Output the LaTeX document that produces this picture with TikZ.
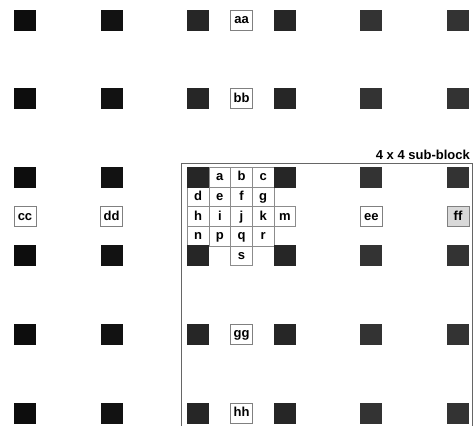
\documentclass[tikz,border=0pt]{standalone}
\usepackage{fontspec}
\setmainfont{Liberation Sans}
\begin{document}
\begin{tikzpicture}[x=1pt,y=-1pt,
  pel/.style={minimum width=22pt, minimum height=21pt, inner sep=0pt},
  halfpel/.style={draw=black!50, fill=white, minimum width=22pt, minimum height=20pt,
    inner sep=0pt, text height=9.5pt, text depth=2.5pt, font=\fontsize{13}{13}\selectfont\bfseries},
  qcell/.style={draw=black!45, minimum width=21.65pt, minimum height=19.65pt,
    inner sep=0pt, text height=9.5pt, text depth=2.5pt, font=\fontsize{13}{13}\selectfont\bfseries},
  frame/.style={draw=black!60, line width=0.6pt}]
\useasboundingbox (0,0) rectangle (473,426);
% sub-block frame
\draw[frame] (181,426) |- (472,163) -- (472,426);
\node[anchor=base east, inner sep=0pt, font=\fontsize{13}{13}\selectfont\bfseries] (sublabel) at (470,159) {4 x 4 sub-block};
% quarter sample cells
\foreach \t/\u/\v in {a/1/0, b/2/0, c/3/0, d/0/1, e/1/1, f/2/1, g/3/1,
    h/0/2, i/1/2, j/2/2, k/3/2, m/4/2, n/0/3, p/1/3, q/2/3, r/3/3, s/2/4}
  \node[qcell] (q-\t) at (198.2+\u*21.65, 177.2+\v*19.65) {\t};
% integer samples
\foreach \c/\s [count=\i] in {25/95,111.6/93,198.2/85,284.8/85,371.4/80,458/80}
  \foreach \r [count=\j] in {20,98.6,177.2,255.8,334.4,413}
    \node[pel, fill=black!\s] (P\i\j) at (\c,\r) {};
% half samples
\node[halfpel] (aa) at (241.5,20) {aa};
\node[halfpel] (bb) at (241.5,98.6) {bb};
\node[halfpel] (gg) at (241.5,334.4) {gg};
\node[halfpel] (hh) at (241.5,413) {hh};
\node[halfpel] (cc) at (25,216.5) {cc};
\node[halfpel] (dd) at (111.6,216.5) {dd};
\node[halfpel] (ee) at (371.4,216.5) {ee};
\node[halfpel, fill=black!15] (ff) at (458,216.5) {ff};
\end{tikzpicture}
\end{document}
